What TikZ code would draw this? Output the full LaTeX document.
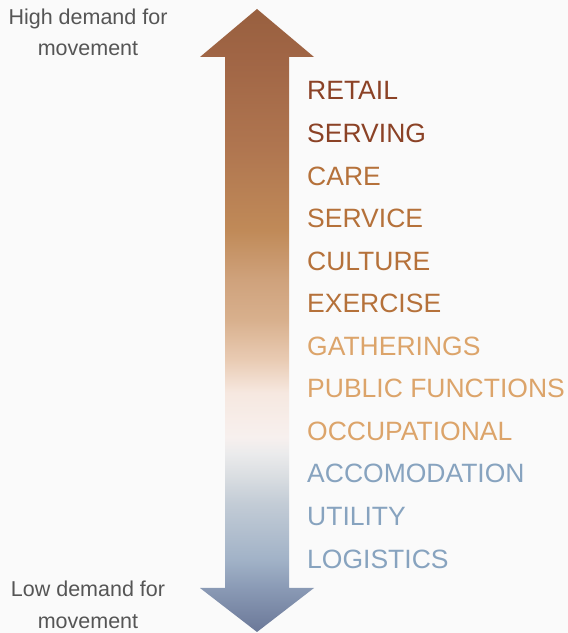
\documentclass[tikz,border=0pt]{standalone}
\usepackage{fontspec}
\setmainfont{Liberation Sans}
\definecolor{bgc}{HTML}{FAFAFA}
\definecolor{cdark}{HTML}{8B4226}
\definecolor{cmid}{HTML}{B5713A}
\definecolor{clight}{HTML}{DCA46A}
\definecolor{cblue}{HTML}{87A3BF}
\definecolor{cgray}{HTML}{555555}
\definecolor{s00}{HTML}{6B7898}
\definecolor{s01}{HTML}{8A9AB5}
\definecolor{s02}{HTML}{A1B2C7}
\definecolor{s03}{HTML}{C3CCD6}
\definecolor{s04}{HTML}{D9DDE1}
\definecolor{s05}{HTML}{EBEBEC}
\definecolor{s06}{HTML}{F7F0EE}
\definecolor{s07}{HTML}{F6E8E0}
\definecolor{s08}{HTML}{E9CBB3}
\definecolor{s09}{HTML}{D8B08D}
\definecolor{s10}{HTML}{CFA27C}
\definecolor{s11}{HTML}{C08A58}
\definecolor{s12}{HTML}{B07650}
\definecolor{s13}{HTML}{A06545}
\definecolor{s14}{HTML}{98603F}
\pgfdeclareverticalshading{arrowshade}{100bp}{%
color(0bp)=(s00); color(25bp)=(s00); color(28.53bp)=(s01); color(30.78bp)=(s02);
color(35.35bp)=(s03); color(37.45bp)=(s04); color(39.35bp)=(s05); color(40.65bp)=(s06);
color(44.2bp)=(s07); color(46.85bp)=(s08); color(50.05bp)=(s09); color(53.25bp)=(s10);
color(57.25bp)=(s11); color(63.7bp)=(s12); color(71.15bp)=(s13); color(75bp)=(s14);
color(100bp)=(s14)}
\tikzset{
  cat/.style={anchor=base west, inner sep=0pt, font=\fontsize{26.5}{30}\selectfont},
  side/.style={anchor=base, inner sep=0pt, text=cgray, font=\fontsize{21.5}{25}\selectfont},
}
\begin{document}
\begin{tikzpicture}[x=1pt,y=1pt]
\fill[bgc] (0,0) rectangle (568,633);
\useasboundingbox (0,0) rectangle (568,633);
\shade[shading=arrowshade]
  (257,624) -- (314,576) -- (289,576) -- (289,45) -- (314,45) -- (257,1)
  -- (200,45) -- (225,45) -- (225,576) -- (200,576) -- cycle;
\node[side] (h1) at (88,608) {High demand for};
\node[side] (h2) at (88,577) {movement};
\node[side] (l1) at (88,36) {Low demand for};
\node[side] (l2) at (88,5) {movement};
\node[cat,text=cdark]  (c0)  at (307,533.00) {RETAIL};
\node[cat,text=cdark]  (c1)  at (307,490.45) {SERVING};
\node[cat,text=cmid]   (c2)  at (307,447.90) {CARE};
\node[cat,text=cmid]   (c3)  at (307,405.35) {SERVICE};
\node[cat,text=cmid]   (c4)  at (307,362.80) {CULTURE};
\node[cat,text=cmid]   (c5)  at (307,320.25) {EXERCISE};
\node[cat,text=clight] (c6)  at (307,277.70) {GATHERINGS};
\node[cat,text=clight] (c7)  at (307,235.15) {PUBLIC FUNCTIONS};
\node[cat,text=clight] (c8)  at (307,192.60) {OCCUPATIONAL};
\node[cat,text=cblue]  (c9)  at (307,150.05) {ACCOMODATION};
\node[cat,text=cblue]  (c10) at (307,107.50) {UTILITY};
\node[cat,text=cblue]  (c11) at (307,64.95)  {LOGISTICS};
\end{tikzpicture}
\end{document}
